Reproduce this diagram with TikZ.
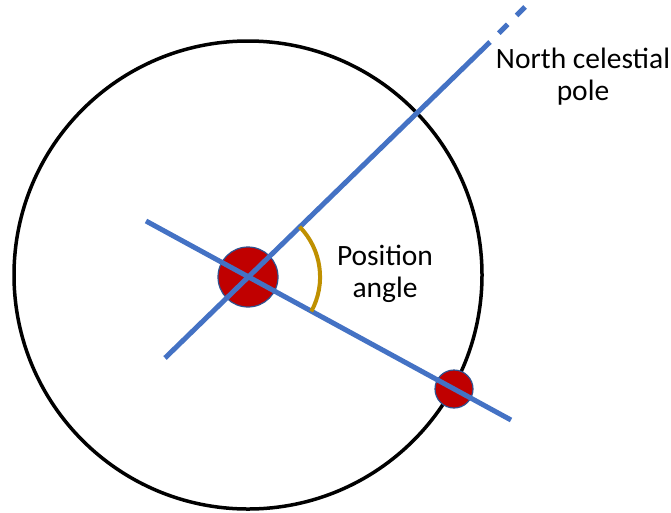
\documentclass[tikz,border=0pt]{standalone}
\usepackage{fontspec}
\setmainfont{Carlito}
\definecolor{pablue}{HTML}{4472C4}
\definecolor{pared}{HTML}{C00000}
\definecolor{paedge}{HTML}{2F528F}
\definecolor{pagold}{HTML}{BF9000}
\begin{document}
\begin{tikzpicture}[x=1pt,y=-1pt,
  axisline/.style={draw=pablue,line width=5pt},
  star/.style={circle,fill=pared,draw=paedge,line width=1.2pt,inner sep=0pt},
  lbl/.style={align=center,inner sep=0pt,font=\fontsize{29.5}{32}\selectfont}]
\useasboundingbox (0,0) rectangle (671,512);
% sky circle
\draw[line width=3.5pt] (248,275) circle[radius=234];
% stars
\node[star,minimum size=60pt] (big) at (248,277) {};
\node[star,minimum size=38pt] (small) at (454,389) {};
% axes
\coordinate (O) at (248,277);
\coordinate (SW) at (165,358);
\coordinate (NP) at (490,42);
\coordinate (NE) at (525,7);
\coordinate (W) at (146,221);
\coordinate (SE) at (511,420);
\draw[axisline] (SW) -- (NP);
\draw[axisline,dash pattern=on 0pt off 12.5pt on 12.5pt off 12.5pt on 12.5pt] (NP) -- (NE);
\draw[axisline] (W) -- (SE);
% position angle arc
\coordinate (P1) at (299.6,226.7);
\draw[draw=pagold,line width=4pt] (P1) arc[start angle=-44.3,end angle=28.6,radius=72];
% labels
\node[lbl] (pa) at (385,273.5) {Position\\angle};
\node[lbl] (ncp) at (583,77) {North celestial\\pole};
\end{tikzpicture}
\end{document}
